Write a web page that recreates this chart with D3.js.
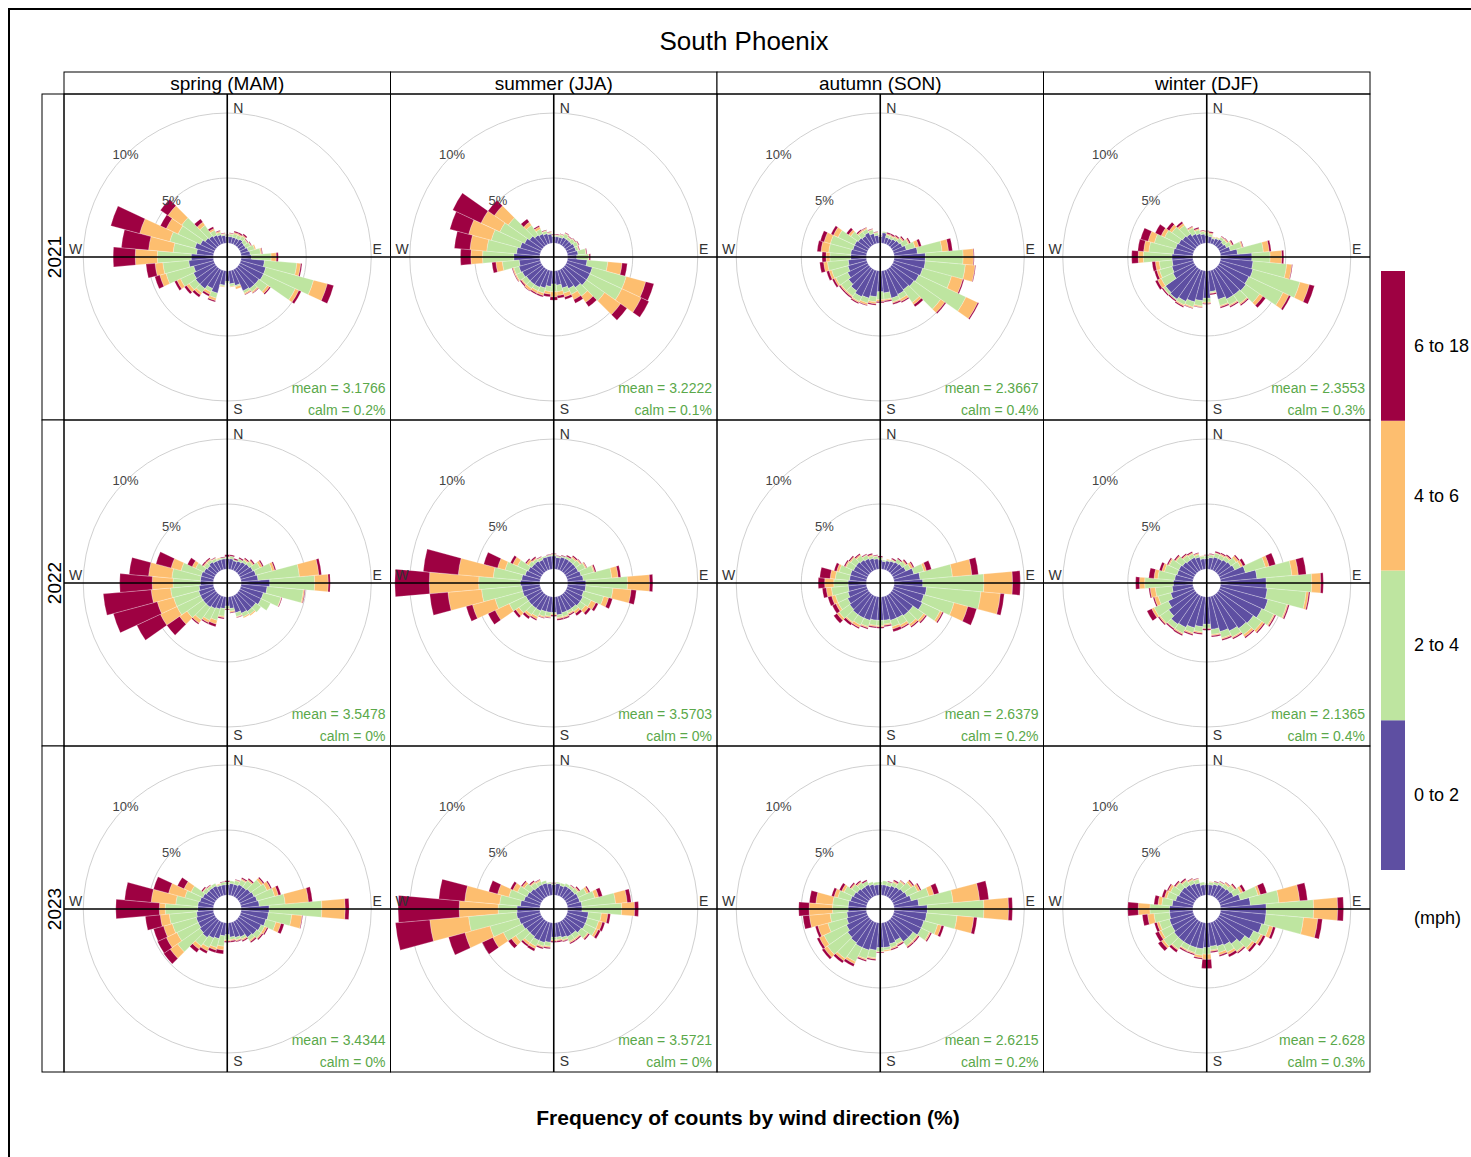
<!DOCTYPE html>
<html>
<head>
<meta charset="utf-8">
<script src="https://cdn.jsdelivr.net/npm/d3@7"></script>
<style>
  body { margin: 0; background: #fff; }
  text { font-family: "Liberation Sans", Arial, sans-serif; }
</style>
</head>
<body>
<svg id="chart" width="1471" height="1157"></svg>
<script>
// facets
const seasons = ["spring (MAM)", "summer (JJA)", "autumn (SON)", "winter (DJF)"];
const years = ["2021", "2022", "2023"];
const directions = [0, 10, 20, 30, 40, 50, 60, 70, 80, 90, 100, 110, 120, 130, 140, 150, 160, 170,
  180, 190, 200, 210, 220, 230, 240, 250, 260, 270, 280, 290, 300, 310, 320, 330, 340, 350];
const speedBins = ["0 to 2", "2 to 4", "4 to 6", "6 to 18"];
const binColours = ["#5E4FA2", "#BEE5A0", "#FDBE6F", "#9E0142"];
const gridPct = [5, 10];

// stats printed in each panel (rows = years, cols = seasons)
const meanSpeed = [
  ["3.1766", "3.2222", "2.3667", "2.3553"],
  ["3.5478", "3.5703", "2.6379", "2.1365"],
  ["3.4344", "3.5721", "2.6215", "2.628"]
];
const calmPct = [
  ["0.2%", "0.1%", "0.4%", "0.3%"],
  ["0%", "0%", "0.2%", "0.4%"],
  ["0%", "0%", "0.2%", "0.3%"]
];

// frequency (%) by direction (0..350 step 10), columns = speed bins
const spring2021 = [
  [0.5,0.1,0,0.05],[0.5,0.2,0.05,0.05],[0.5,0.3,0.1,0.1],[0.5,0.3,0.1,0.1],[0.6,0.3,0.1,0.1],[0.5,0.3,0.05,0.05],
  [0.5,0.4,0.05,0.05],[0.6,0.5,0.1,0],[0.7,0.8,0.1,0.05],[0.8,1.5,0.4,0.15],[1.8,2.5,0.3,0.1],[2.0,3.8,1.1,0.5],
  [2.0,2.7,0.3,0.2],[1.9,0.8,0.2,0.1],[1.9,0.3,0.1,0.05],[1.8,0.2,0.1,0.05],[1.2,0.1,0.2,0],[1.0,0.2,0.05,0],
  [0.8,0.1,0,0],[1.1,0.1,0.05,0],[1.8,0.4,0.2,0.1],[1.6,0.3,0.2,0.15],[1.9,0.4,0.2,0.2],[1.9,0.6,0.25,0.2],
  [1.8,1.1,0.3,0.2],[1.6,2.2,0.5,0.4],[1.9,2.0,0.6,0.7],[1.7,2.6,1.7,1.7],[1.3,1.8,1.9,2.1],[1.5,2.0,2.4,2.3],
  [1.2,1.9,1.0,0.5],[1.0,2.2,1.3,0.7],[0.9,1.0,0.3,0.3],[0.8,0.4,0.15,0.15],[0.7,0.2,0.1,0.05],[0.6,0.1,0.05,0.05]
];
const summer2021 = [
  [0.5,0.1,0.05,0.05],[0.5,0.1,0.05,0.05],[0.5,0.2,0.05,0.05],[0.6,0.3,0.05,0.05],[0.6,0.2,0.05,0.05],[0.6,0.3,0.05,0.05],
  [0.7,0.3,0.05,0.05],[0.7,0.2,0.05,0.05],[0.8,0.6,0.05,0.05],[0.7,0.9,0.05,0.1],[1.5,1.6,1.1,0.4],[2.0,2.7,1.55,0.65],
  [2.0,2.7,1.65,0.65],[2.0,1.7,1.5,0.6],[1.8,0.8,0.6,0.4],[1.6,0.5,0.45,0.3],[1.4,0.4,0.3,0.2],[1.1,0.5,0.3,0.2],
  [1.0,0.6,0.4,0.25],[1.2,0.4,0.2,0.2],[1.4,0.4,0.2,0.1],[1.5,0.3,0.2,0.1],[1.5,0.4,0.2,0.05],[1.5,0.4,0.1,0.1],
  [1.6,0.5,0.1,0.05],[1.7,0.4,0.1,0.05],[1.6,1.3,0.5,0.3],[2.0,2.4,0.9,0.8],[1.8,2.3,1.3,1.2],[1.6,2.3,1.8,1.5],
  [1.4,2.1,1.6,2.4],[1.2,2.0,1.3,0.6],[1.0,0.9,0.3,0.3],[0.9,0.4,0.2,0.1],[0.8,0.2,0.05,0.05],[0.7,0.1,0.05,0.05]
];
const autumn2021 = [
  [0.5,0.05,0.03,0.02],[0.8,0.1,0,0],[0.5,0.2,0.1,0.1],[0.5,0.2,0.1,0.1],[0.6,0.2,0.1,0.1],[0.7,0.3,0.1,0.1],
  [0.8,0.5,0.1,0.1],[1.0,0.7,0.3,0.2],[1.8,1.9,0.5,0.3],[2.4,2.9,0.8,0.05],[2.4,3.1,0.75,0.05],[2.3,2.3,0.9,0.1],
  [2.2,4.0,1.0,0.1],[2.1,2.5,0.4,0.1],[2.0,1.2,0.2,0.2],[2.1,0.4,0.2,0.1],[2.2,0.3,0.1,0.1],[1.7,0.5,0.1,0.1],
  [1.6,0.6,0.15,0.1],[2.0,0.4,0.15,0.1],[2.2,0.4,0.15,0.05],[2.3,0.4,0.1,0.1],[2.1,0.5,0.1,0.1],[1.9,0.7,0.1,0.1],
  [1.7,1.0,0.15,0.15],[1.5,1.3,0.2,0.2],[1.4,1.6,0.3,0.3],[1.2,1.6,0.3,0.3],[1.2,1.7,0.6,0.3],[1.1,1.8,0.5,0.3],
  [1.1,1.4,0.4,0.2],[1.0,0.7,0.2,0.2],[0.9,0.4,0.1,0.1],[1.0,0.3,0.1,0.05],[0.8,0.3,0.05,0.05],[0.6,0.2,0.05,0.05]
];
const winter2021 = [
  [0.6,0.2,0.1,0.05],[0.5,0.2,0.1,0.1],[0.4,0.1,0.05,0],[0.5,0.1,0.05,0],[0.6,0.2,0.05,0.05],[0.5,0.3,0.1,0.05],
  [0.6,0.4,0.1,0.1],[0.8,0.9,0.1,0.05],[1.3,2.0,0.45,0.15],[2.4,1.4,0.9,0.15],[2.5,2.6,0.4,0.05],[2.6,3.75,0.75,0.4],
  [2.5,2.9,0.5,0.15],[2.6,1.3,0.3,0.25],[2.5,0.8,0.1,0.1],[2.5,0.5,0.1,0.1],[2.3,0.5,0.1,0.1],[1.6,0.1,0.05,0.1],
  [2.1,0.3,0.1,0.05],[2.3,0.4,0.1,0.05],[2.5,0.4,0.1,0.05],[2.7,0.3,0.1,0.1],[2.9,0.1,0,0.1],[2.8,0.2,0.05,0.1],
  [1.8,1.0,0.3,0.2],[1.7,1.0,0.2,0.2],[1.6,1.0,0.3,0.25],[1.6,2.2,0.4,0.5],[1.5,1.9,0.4,0.45],[1.4,1.7,0.5,0.6],
  [1.3,1.2,0.3,0.5],[1.2,1.0,0.25,0.25],[1.1,0.8,0.2,0.15],[0.9,0.5,0.1,0.05],[0.8,0.3,0.1,0.1],[0.7,0.2,0.05,0.05]
];
const spring2022 = [
  [0.8,0.1,0.05,0.15],[0.8,0.2,0,0.1],[0.7,0.1,0,0.1],[0.8,0.2,0,0.1],[0.9,0.2,0.1,0.1],[1.0,0.3,0.1,0.1],
  [1.1,0.6,0.2,0.1],[1.2,1.3,0.2,0.1],[1.3,3.2,1.5,0.2],[2.2,3.45,1.05,0.15],[2.0,2.8,0.1,0.05],[1.8,1.4,0.05,0.05],
  [1.8,0.8,0,0],[1.6,0.5,0,0],[1.6,0.3,0.1,0],[1.5,0.3,0.1,0],[1.3,0.3,0.05,0.05],[0.9,0.2,0.1,0.05],
  [0.7,0.2,0.05,0.05],[0.9,0.6,0.1,0.1],[1.0,0.9,0.3,0.2],[1.1,1.0,0.2,0.1],[1.2,1.2,0.3,0.1],[1.2,1.5,0.7,1.2],
  [1.2,2.0,1.4,2.0],[1.2,2.0,1.3,3.5],[1.1,2.2,1.5,3.7],[1.0,2.1,1.6,2.5],[1.0,2.2,1.8,1.5],[1.0,1.6,0.8,1.2],
  [0.9,0.7,0.3,0.4],[0.8,0.3,0.1,0.1],[0.9,0.2,0.1,0.1],[0.8,0.2,0.05,0.05],[0.8,0.1,0.05,0],[0.8,0.1,0,0.05]
];
const summer2022 = [
  [1.0,0.1,0.05,0.05],[0.9,0.1,0,0.05],[1.0,0.1,0,0.05],[1.0,0.2,0,0.1],[1.0,0.3,0.1,0.1],[1.0,0.4,0.1,0.05],
  [1.0,0.6,0.1,0.05],[1.1,1.0,0.1,0.1],[1.2,2.2,0.5,0.2],[1.4,3.2,1.7,0.25],[1.4,2.1,1.4,0.4],[1.3,1.6,0.4,0.3],
  [1.4,0.7,0.4,0.2],[1.4,0.5,0.3,0.2],[1.3,0.3,0.2,0.2],[1.3,0.2,0.1,0.1],[1.3,0.3,0.1,0.1],[1.4,0.2,0.1,0.1],
  [1.2,0.1,0.1,0.1],[1.2,0.3,0.1,0.05],[1.2,0.4,0.1,0.05],[1.3,0.5,0.2,0.1],[1.3,0.6,0.2,0.2],[1.3,0.9,0.3,0.2],
  [1.3,1.4,1.2,0.6],[1.4,2.2,1.8,0.5],[1.4,3.1,2.6,1.4],[1.5,3.2,3.8,2.65],[1.4,2.2,2.7,2.7],[1.2,1.6,0.6,1.1],
  [1.1,0.9,0.4,0.2],[1.0,0.3,0.2,0.1],[1.0,0.2,0.1,0.1],[0.9,0.2,0.05,0.05],[1.0,0.1,0,0],[1.0,0.1,0,0.05]
];
const autumn2022 = [
  [0.7,0.2,0,0.1],[0.6,0.1,0,0],[0.7,0.1,0.05,0],[0.8,0.1,0.05,0.1],[0.9,0.3,0,0.1],[1.0,0.3,0.1,0.1],
  [1.1,0.4,0.2,0.1],[1.6,0.8,0.2,0.4],[2.0,2.5,1.5,0.5],[2.2,4.7,2.2,0.6],[2.5,4.2,1.5,0.3],[2.4,2.4,1.1,0.7],
  [2.5,1.5,0.2,0.1],[2.0,1.0,0.2,0.1],[2.0,0.8,0.2,0.1],[1.9,0.6,0.2,0.1],[1.9,0.5,0.2,0.2],[1.8,0.3,0.1,0.1],
  [1.8,0.4,0.1,0.1],[1.8,0.4,0.1,0.1],[1.9,0.5,0.1,0.1],[1.9,0.6,0.2,0.1],[1.9,0.7,0.1,0.2],[1.8,1.0,0.2,0.3],
  [1.7,0.8,0.2,0.3],[1.5,1.0,0.3,0.3],[1.4,1.3,0.4,0.3],[1.4,1.1,0.7,0.5],[1.3,1.1,0.4,0.8],[1.3,0.9,0.2,0.2],
  [1.2,0.6,0.1,0.1],[1.2,0.5,0.1,0.1],[1.1,0.4,0.1,0.1],[1.0,0.3,0.05,0.05],[0.9,0.2,0.1,0.1],[0.8,0.2,0.05,0.05]
];
const winter2022 = [
  [0.8,0.2,0.05,0.05],[0.9,0.2,0.05,0.05],[1.0,0.3,0.05,0.1],[1.0,0.3,0.1,0.1],[1.1,0.3,0.1,0.1],[1.2,0.5,0.2,0.1],
  [1.3,0.5,0.2,0.2],[2.0,1.6,0.3,0.5],[2.8,2.7,0.5,0.6],[3.5,3.5,0.7,0.2],[3.6,3.0,0.2,0.1],[3.8,1.5,0.1,0.1],
  [3.6,1.0,0.1,0.1],[3.3,0.8,0.2,0.1],[3.2,0.6,0.2,0.1],[3.0,0.5,0.1,0.1],[2.8,0.5,0.1,0.1],[2.5,0.4,0.1,0.1],
  [2.1,0.3,0.05,0.1],[2.3,0.4,0.1,0.1],[2.5,0.4,0.1,0.1],[2.7,0.5,0.1,0.1],[2.8,0.4,0.05,0.1],[2.5,0.8,0.1,0.1],
  [2.2,1.2,0.2,0.4],[1.8,1.0,0.3,0.1],[1.6,1.3,0.4,0.1],[1.5,2.2,0.4,0.3],[1.4,1.3,0.3,0.4],[1.3,1.0,0.2,0.2],
  [1.3,0.8,0.1,0.1],[1.2,0.6,0.1,0.1],[1.1,0.4,0.1,0.1],[1.1,0.3,0.1,0.1],[1.0,0.2,0.1,0.05],[0.8,0.2,0.05,0]
];
const spring2023 = [
  [0.8,0.2,0,0.1],[0.9,0.2,0,0],[0.9,0.3,0.05,0.05],[1.0,0.4,0.1,0.1],[1.0,0.6,0.1,0.1],[1.1,1.0,0.2,0.1],
  [1.2,1.1,0.3,0.1],[1.3,1.4,0.3,0.2],[1.4,2.0,1.8,0.3],[2.15,4.05,1.8,0.3],[2.1,1.8,0.8,0.05],[2.0,0.8,0.4,0.25],
  [1.8,0.3,0.2,0.1],[1.7,0.4,0.1,0.1],[1.6,0.3,0.1,0.1],[1.3,0.2,0.1,0.1],[1.2,0.2,0.1,0.05],[1.1,0.2,0.1,0.1],
  [0.9,0.4,0.1,0.1],[1.0,0.8,0.3,0.3],[1.3,0.7,0.2,0.2],[1.4,0.8,0.3,0.2],[1.6,0.8,0.3,0.3],[1.5,2.1,0.7,0.6],
  [1.4,1.8,0.9,0.75],[1.4,1.9,0.7,0.8],[1.3,2.1,0.7,1.15],[1.2,2.5,0.45,3.35],[1.2,1.7,1.9,2.05],[1.1,1.2,1.3,1.2],
  [1.0,1.0,0.6,0.55],[0.9,0.3,0.05,0.1],[0.9,0.2,0.05,0.05],[0.9,0.2,0,0],[0.8,0.1,0.05,0],[0.8,0.2,0,0.05]
];
const summer2023 = [
  [0.8,0.1,0,0.05],[0.9,0.1,0,0],[0.8,0.2,0,0],[0.9,0.2,0,0],[0.9,0.2,0.05,0.05],[0.9,0.3,0.1,0.1],
  [1.0,0.7,0.2,0.1],[1.0,1.2,0.3,0.3],[1.1,2.6,0.9,0.3],[1.1,3.05,1.0,0.3],[1.6,1.0,0.5,0.2],[1.6,0.9,0.3,0.2],
  [1.6,0.9,0.2,0.2],[1.5,0.6,0.1,0.1],[1.3,0.4,0.1,0.1],[1.3,0.4,0.1,0.1],[1.2,0.2,0.1,0.05],[1.1,0.2,0.1,0.1],
  [1.1,0.2,0.1,0.1],[1.5,0.3,0.1,0.1],[1.6,0.3,0.1,0.1],[1.6,0.5,0.2,0.2],[1.5,0.6,0.2,0.15],[1.5,1.0,0.4,0.3],
  [1.6,1.6,0.9,0.9],[1.7,2.3,2.0,1.3],[1.8,3.7,3.0,2.65],[1.75,1.45,3.0,4.7],[1.5,1.6,2.7,2.0],[1.3,1.2,0.9,0.7],
  [1.2,0.8,0.4,0.2],[1.1,0.6,0.2,0.1],[1.0,0.4,0.1,0.1],[1.0,0.3,0.1,0.05],[1.0,0.2,0,0],[0.9,0.1,0,0]
];
const autumn2023 = [
  [0.8,0.2,0,0],[0.8,0.3,0,0],[0.8,0.3,0,0.05],[0.9,0.3,0.1,0.1],[1.0,0.5,0.1,0.05],[1.1,0.7,0.2,0.1],
  [1.2,0.9,0.2,0.1],[1.4,1.4,0.4,0.4],[1.9,2.65,2.05,0.7],[2.55,4.35,1.9,0.3],[2.5,2.35,1.3,0.25],[2.4,1.1,0.3,0.2],
  [2.4,0.7,0.1,0.1],[2.0,0.4,0.1,0.1],[2.0,0.4,0.1,0.1],[1.6,0.3,0.1,0.1],[1.7,0.3,0.1,0.1],[1.9,0.2,0.1,0],
  [1.9,0.3,0.05,0.05],[2.1,0.6,0.1,0.1],[2.2,0.7,0.1,0.1],[2.2,1.2,0.2,0.2],[2.1,1.5,0.2,0.2],[2.0,1.9,0.3,0.2],
  [1.8,1.9,0.4,0.2],[1.6,1.5,0.8,0.2],[1.5,1.3,1.6,0.5],[1.4,1.2,1.8,0.8],[1.4,1.2,1.3,0.5],[1.3,1.0,0.3,0.2],
  [1.2,0.8,0.2,0.2],[1.1,0.5,0.1,0.1],[1.0,0.4,0.1,0.1],[1.0,0.3,0,0.1],[0.9,0.2,0,0],[0.8,0.2,0,0]
];
const winter2023 = [
  [0.8,0.1,0,0],[0.8,0.2,0.05,0],[0.9,0.2,0,0.05],[1.0,0.2,0.05,0.05],[1.0,0.3,0.1,0.05],[1.1,0.4,0.1,0.1],
  [1.2,0.6,0.2,0.2],[1.6,1.4,0.2,0.5],[2.3,2.2,1.6,0.6],[3.5,3.65,1.85,0.45],[3.5,2.9,1.1,0.35],[3.3,0.6,0.3,0.2],
  [2.9,0.6,0.2,0.2],[2.5,0.7,0.2,0.2],[2.2,0.7,0.1,0.1],[2.0,0.6,0.2,0.2],[1.9,0.5,0.2,0.1],[1.8,0.3,0.1,0.1],
  [1.9,0.5,0.4,0.7],[2.0,0.5,0.2,0.1],[2.0,0.4,0.1,0.1],[2.0,0.4,0.1,0.1],[2.0,0.7,0.1,0.2],[2.0,1.0,0.2,0.3],
  [1.9,0.9,0.2,0.3],[1.9,0.8,0.2,0.2],[1.8,1.2,0.5,0.4],[1.8,1.5,0.9,0.8],[1.6,0.8,0.3,0.3],[1.4,0.7,0.2,0.2],
  [1.3,0.7,0.2,0.1],[1.3,0.5,0.1,0.1],[1.2,0.4,0.1,0.1],[1.1,0.3,0.1,0.05],[1.0,0.3,0.05,0.05],[0.8,0.2,0,0]
];

const panelData = [
  [spring2021, summer2021, autumn2021, winter2021],
  [spring2022, summer2022, autumn2022, winter2022],
  [spring2023, summer2023, autumn2023, winter2023]
];

const svg = d3.select("#chart");

// page frame
svg.append("path")
  .attr("d", "M9,1157V9H1471")
  .attr("fill", "none").attr("stroke", "#000").attr("stroke-width", 2);

// title + axis caption
svg.append("text")
  .attr("x", 744).attr("y", 50)
  .attr("text-anchor", "middle")
  .attr("font-size", 26)
  .text("South Phoenix");

svg.append("text")
  .attr("x", 748).attr("y", 1125)
  .attr("text-anchor", "middle")
  .attr("font-size", 21).attr("font-weight", "bold")
  .text("Frequency of counts by wind direction (%)");

// scales
const x = d3.scaleBand().domain(seasons).range([64, 1370]);
const y = d3.scaleBand().domain(years).range([94, 1072]);
const r = d3.scaleLinear().domain([0, 10]).range([14, 144]);
const colour = d3.scaleOrdinal().domain(d3.range(4)).range(binColours);
const rad = d => d * Math.PI / 180;

const stack = d3.stack().keys(d3.range(speedBins.length));
const arc = d3.arc()
  .innerRadius(d => r(d[0]))
  .outerRadius(d => r(d[1]))
  .startAngle(d => rad(d.dir - 5))
  .endAngle(d => rad(d.dir + 5));

// strips
seasons.forEach(s => {
  svg.append("rect")
    .attr("x", x(s)).attr("y", 72)
    .attr("width", x.bandwidth()).attr("height", 22)
    .attr("fill", "#fff").attr("stroke", "#000");
  svg.append("text")
    .attr("x", x(s) + x.bandwidth() / 2).attr("y", 90)
    .attr("text-anchor", "middle").attr("font-size", 19)
    .text(s);
});
years.forEach(yr => {
  svg.append("rect")
    .attr("x", 42).attr("y", y(yr))
    .attr("width", 22).attr("height", y.bandwidth())
    .attr("fill", "#fff").attr("stroke", "#000");
  svg.append("text")
    .attr("transform", "translate(61," + (y(yr) + y.bandwidth() / 2) + ") rotate(-90)")
    .attr("text-anchor", "middle").attr("font-size", 19)
    .text(yr);
});

// panels
years.forEach((yr, i) => {
  seasons.forEach((s, j) => {
    const px = x(s), py = y(yr), w = x.bandwidth(), h = y.bandwidth();
    const cx = px + w / 2, cy = py + h / 2;
    const clipId = "clip-" + i + "-" + j;

    svg.append("clipPath").attr("id", clipId)
      .append("rect").attr("x", px).attr("y", py).attr("width", w).attr("height", h);

    const g = svg.append("g").attr("clip-path", "url(#" + clipId + ")");
    const rose = g.append("g").attr("transform", "translate(" + cx + "," + cy + ")");

    // grid rings
    rose.selectAll("circle.grid")
      .data(gridPct)
      .enter().append("circle")
      .attr("class", "grid")
      .attr("r", d => r(d))
      .attr("fill", "none").attr("stroke", "#d0d0d0").attr("stroke-width", 1);

    // stacked wedges
    const series = stack(panelData[i][j]);
    series.forEach(layer => layer.forEach((d, k) => { d.dir = directions[k]; }));

    rose.selectAll("g.bin")
      .data(series)
      .enter().append("g")
      .attr("class", "bin")
      .attr("fill", d => colour(d.key))
      .selectAll("path")
      .data(d => d.filter(v => v[1] > v[0]))
      .enter().append("path")
      .attr("d", arc)
      .attr("stroke", "#fff").attr("stroke-width", 0.25);

    // crosshair
    g.append("line")
      .attr("x1", px).attr("x2", px + w).attr("y1", cy).attr("y2", cy)
      .attr("stroke", "#000").attr("stroke-width", 1.6);
    g.append("line")
      .attr("x1", cx).attr("x2", cx).attr("y1", py).attr("y2", py + h)
      .attr("stroke", "#000").attr("stroke-width", 1.6);

    // ring labels at NW
    rose.selectAll("text.ring")
      .data(gridPct)
      .enter().append("text")
      .attr("class", "ring")
      .attr("x", d => r(d) * Math.sin(rad(315)))
      .attr("y", d => -r(d) * Math.cos(rad(315)) + 4)
      .attr("text-anchor", "middle").attr("font-size", 13).attr("fill", "#444")
      .text(d => d + "%");

    // compass letters
    const lab = [
      { t: "N", x: cx + 6, y: py + 19 },
      { t: "S", x: cx + 6, y: py + h - 6 },
      { t: "W", x: px + 5, y: cy - 3 },
      { t: "E", x: px + w - 18, y: cy - 3 }
    ];
    g.selectAll("text.compass")
      .data(lab)
      .enter().append("text")
      .attr("class", "compass")
      .attr("x", d => d.x).attr("y", d => d.y)
      .attr("font-size", 14).attr("fill", "#333")
      .text(d => d.t);

    // mean / calm
    g.append("text")
      .attr("x", px + w - 5).attr("y", py + h - 27)
      .attr("text-anchor", "end").attr("font-size", 14).attr("fill", "#5aa84a")
      .text("mean = " + meanSpeed[i][j]);
    g.append("text")
      .attr("x", px + w - 5).attr("y", py + h - 5)
      .attr("text-anchor", "end").attr("font-size", 14).attr("fill", "#5aa84a")
      .text("calm = " + calmPct[i][j]);

    // panel border
    svg.append("rect")
      .attr("x", px).attr("y", py).attr("width", w).attr("height", h)
      .attr("fill", "none").attr("stroke", "#000");
  });
});

// legend
const ly = d3.scaleBand().domain(d3.range(speedBins.length).reverse()).range([271, 870]);
const legend = svg.append("g");
legend.selectAll("rect")
  .data(d3.range(speedBins.length))
  .enter().append("rect")
  .attr("x", 1381).attr("y", d => ly(d))
  .attr("width", 24).attr("height", ly.bandwidth())
  .attr("fill", d => colour(d));
legend.selectAll("text")
  .data(d3.range(speedBins.length))
  .enter().append("text")
  .attr("x", 1414).attr("y", d => ly(d) + ly.bandwidth() / 2 + 6)
  .attr("font-size", 18)
  .text(d => speedBins[d]);
legend.append("text")
  .attr("x", 1414).attr("y", 924)
  .attr("font-size", 18)
  .text("(mph)");
</script>
</body>
</html>
